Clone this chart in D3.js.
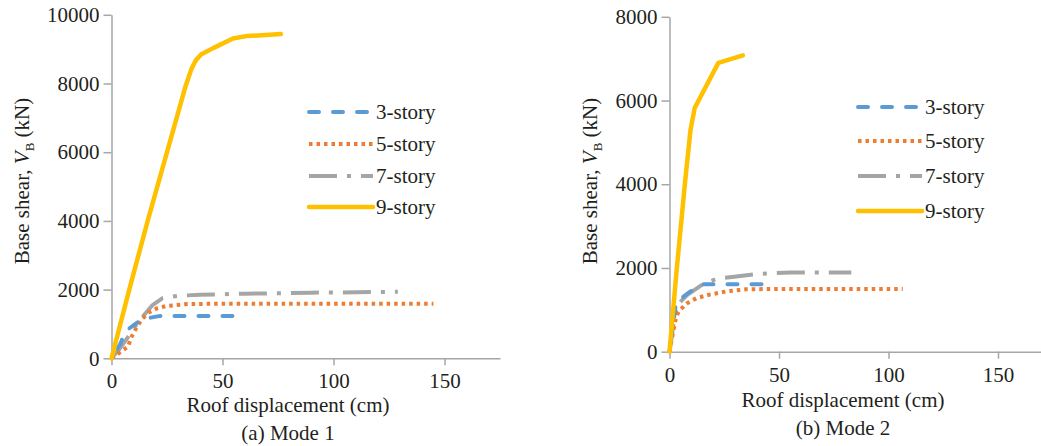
<!DOCTYPE html>
<html><head><meta charset="utf-8">
<script src="https://cdn.jsdelivr.net/npm/d3@7"></script>
<style>
html,body{margin:0;padding:0;background:#fff;}
svg{display:block;font-family:"Liberation Serif","Times New Roman",serif;}
</style></head>
<body><svg id="c" width="1041" height="446"></svg>
<script>
// ---- data ----
const seriesNames = ["3-story","5-story","7-story","9-story"];
// Mode 1: [roof displacement (cm), base shear (kN)]
const m1_3story = [[0,0],[4,420],[5.9,730],[8,870],[12,1060],[16.4,1170],[22,1235],[54.5,1235]];
const m1_5story = [[0,0],[7.5,340],[8.7,580],[10.2,775],[12.5,1020],[14,1160],[17,1340],[20.7,1460],[24.5,1520],[34.3,1580],[50,1590],[145,1590]];
const m1_7story = [[0,0],[3.8,290],[6.5,530],[10,870],[14,1210],[18.5,1550],[23,1750],[30,1820],[40,1850],[60,1880],[90,1910],[129,1935]];
const m1_9story = [[0,0],[8,2000],[16.3,4000],[25,6000],[33.5,7950],[36,8420],[38,8680],[40.5,8850],[45.8,9030],[54.7,9310],[60.7,9380],[76.3,9440]];
// Mode 2
const m2_3story = [[0,0],[3,1180],[9,1420],[15.4,1610],[42,1610]];
const m2_5story = [[0,0],[2.5,710],[4,950],[7.8,1150],[12.4,1280],[18.4,1365],[26,1440],[35,1490],[50,1500],[106.5,1500]];
const m2_7story = [[0,0],[1.7,630],[3.2,1100],[8,1350],[15.4,1620],[21.6,1740],[27.6,1780],[40.5,1860],[55,1890],[83,1890]];
const m2_9story = [[0,0],[3.1,1860],[7.2,4100],[9.6,5300],[11.5,5820],[22.3,6900],[33.5,7080]];
const xTicks = [0,50,100,150];
const yTicks1 = [0,2000,4000,6000,8000,10000];
const yTicks2 = [0,2000,4000,6000,8000];
const panelTitles = ["(a) Mode 1","(b) Mode 2"];

const colors = ["#5B9BD5","#ED7D31","#A5A5A5","#FFC000"];
const dashes = ["10,14","3.5,4","28,10,4,10",null];
const dashEnd = [10, null, null, null]; // align pattern so the path ends on a dash
const dashPeriod = [24, 7.5, 52, null];
const caps = ["round","butt","butt","round"];
const widths = [4,4,4,4.5];

const svg = d3.select("#c");
const axisColor = "#A6A6A6";
const textColor = "#231F20";

function panel(cfg){
  const g = svg.append("g");
  const x = d3.scaleLinear().domain([0,175]).range([cfg.x0, cfg.x0 + 175*cfg.xs]);
  const y = d3.scaleLinear().domain([0,cfg.ymax]).range([cfg.y0, cfg.yTop]);
  const ya = g.append("g").attr("transform",`translate(${cfg.x0},0)`)
    .call(d3.axisLeft(y).tickValues(cfg.yTicks).tickFormat(d3.format("d")).tickSize(8).tickPadding(4).tickSizeOuter(0));
  const xa = g.append("g").attr("transform",`translate(0,${cfg.y0})`)
    .call(d3.axisBottom(x).tickValues(xTicks).tickFormat(d3.format("d")).tickSize(7).tickPadding(8).tickSizeOuter(0));
  [ya,xa].forEach(a=>{
    a.selectAll("path,line").attr("stroke",axisColor).attr("stroke-width",1.5);
    a.selectAll("text").attr("fill",textColor).style("font-size","21px").style("font-family","Liberation Serif");
  });
  const line = d3.line().x(d=>x(d[0])).y(d=>y(d[1]));
  [2,1,0,3].forEach(i=>{
    const p = g.append("path").datum(cfg.data[i]).attr("d",line)
      .attr("fill","none").attr("stroke",colors[i]).attr("stroke-width",widths[i])
      .attr("stroke-dasharray",dashes[i]).attr("stroke-linecap",caps[i]).attr("stroke-linejoin","round");
    if (dashEnd[i] != null) {
      const L = p.node().getTotalLength();
      const per = dashPeriod[i];
      const off = (((dashEnd[i] - L) % per) + per) % per;
      p.attr("stroke-dashoffset", off);
    }
  });
  seriesNames.forEach((n,i)=>{
    const ly = cfg.legY[i];
    g.append("line").attr("x1",cfg.legX).attr("x2",cfg.legX+64).attr("y1",ly).attr("y2",ly)
      .attr("stroke",colors[i]).attr("stroke-width",widths[i]).attr("stroke-dasharray",dashes[i]).attr("stroke-linecap",caps[i]);
    g.append("text").attr("x",cfg.legX+67).attr("y",ly+7).text(n)
      .attr("fill",textColor).style("font-size","21px");
  });
  g.append("text").attr("x",cfg.xlabX).attr("y",cfg.xlabY).attr("text-anchor","middle")
    .attr("fill",textColor).style("font-size","21px").text("Roof displacement (cm)");
  g.append("text").attr("x",cfg.xlabX).attr("y",cfg.titleY).attr("text-anchor","middle")
    .attr("fill",textColor).style("font-size","21px").text(cfg.title);
  const yl = g.append("text").attr("transform",`translate(${cfg.ylabX},181) rotate(-90)`)
    .attr("text-anchor","middle").attr("fill",textColor).style("font-size","21px");
  yl.append("tspan").text("Base shear, ");
  yl.append("tspan").attr("font-style","italic").text("V");
  yl.append("tspan").attr("dy","5").style("font-size","13px").text("B");
  yl.append("tspan").attr("dy","-5").text(" (kN)");
}

panel({x0:111.5,xs:2.22,y0:358.3,yTop:14.8,ymax:10000,yTicks:yTicks1,
  data:[m1_3story,m1_5story,m1_7story,m1_9story],
  legX:309,legY:[112,144,176,207],xlabX:288,xlabY:412,titleY:440,ylabX:29,title:panelTitles[0]});
panel({x0:669.5,xs:2.19,y0:351.7,yTop:16.8,ymax:8000,yTicks:yTicks2,
  data:[m2_3story,m2_5story,m2_7story,m2_9story],
  legX:858,legY:[107,141,176,211],xlabX:843,xlabY:407,titleY:435,ylabX:597,title:panelTitles[1]});
</script></body></html>
